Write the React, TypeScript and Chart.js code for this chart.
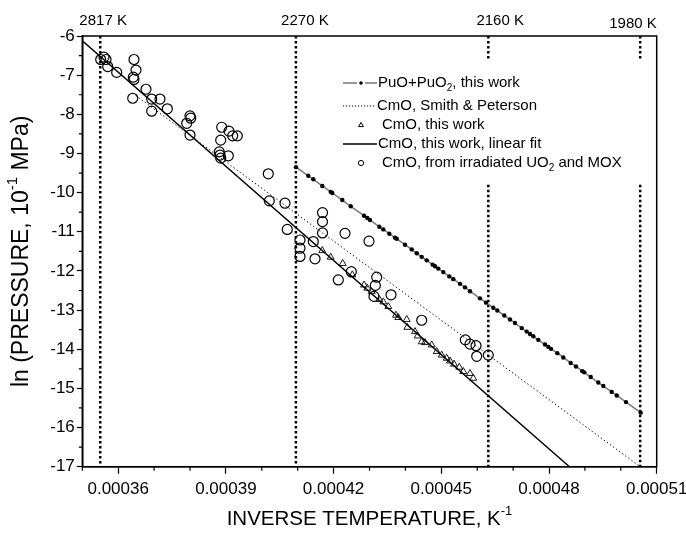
import { useEffect, useRef } from 'react';
import { Chart, registerables } from 'chart.js';
Chart.register(...registerables);

const FONT = "'Liberation Sans', Arial, Helvetica, sans-serif";

// Axis ticks
const xMajorTicks = [0.00036, 0.00039, 0.00042, 0.00045, 0.00048, 0.00051];
const xMinorTicks = [0.00035, 0.00037, 0.00038, 0.0004, 0.00041, 0.00043, 0.00044, 0.00046, 0.00047, 0.00049, 0.0005];
const yMinorTicks = [-6.5, -7.5, -8.5, -9.5, -10.5, -11.5, -12.5, -13.5, -14.5, -15.5, -16.5];

// Temperature reference lines
const tempLabels = ['2817 K', '2270 K', '2160 K', '1980 K'];
const tempLineX = [0.000355, 0.0004095, 0.0004631, 0.0005054];
const tempLabelX = [0.0003558, 0.000412, 0.0004664, 0.0005034];
const tempLineSegments = [
  [[-6, -17]],
  [[-6, -17]],
  [[-6, -6.6], [-9.8, -17]],
  [[-6, -6.6], [-9.8, -17]],
];

// PuO + PuO2, this work
const puoX = [
  0.00040953, 0.00041295, 0.00041435, 0.00041685, 0.00041919, 0.00041964, 0.00042242, 0.00042476,
  0.00042847, 0.00042939, 0.00043014, 0.00043273, 0.00043384, 0.00043552, 0.0004371, 0.00043758,
  0.00043989, 0.00044175, 0.00044315, 0.00044454, 0.00044593, 0.0004476, 0.00044825, 0.00044916,
  0.00045056, 0.00045223, 0.00045334, 0.00045521, 0.0004566, 0.00045799, 0.00046078, 0.00046245,
  0.00046448, 0.0004656, 0.00046755, 0.00046914, 0.00047053, 0.0004724, 0.00047379, 0.00047471,
  0.00047563, 0.00047702, 0.00047889, 0.00047981, 0.00048056, 0.00048231, 0.00048398, 0.00048604,
  0.00048752, 0.00048928, 0.00048983, 0.00049162, 0.00049373, 0.00049513, 0.00049747, 0.00049886,
  0.00050145, 0.00050554,
];
const puoY = [
  -9.35, -9.57, -9.66, -9.83, -9.98, -10.01, -10.19, -10.35,
  -10.59, -10.65, -10.7, -10.87, -10.94, -11.05, -11.15, -11.18,
  -11.33, -11.45, -11.55, -11.64, -11.73, -11.84, -11.88, -11.94,
  -12.03, -12.14, -12.21, -12.33, -12.42, -12.52, -12.7, -12.81,
  -12.94, -13.01, -13.14, -13.24, -13.33, -13.46, -13.55, -13.61,
  -13.67, -13.76, -13.88, -13.94, -13.99, -14.1, -14.21, -14.35,
  -14.44, -14.56, -14.59, -14.71, -14.85, -14.94, -15.09, -15.18,
  -15.35, -15.62,
];

// CmO, Smith & Peterson
const smithX = [0.000364, 0.0005054];
const smithY = [-7.46, -17];

// CmO, this work (triangles)
const cmoX = [
  0.00041685, 0.00041919, 0.00042253, 0.00042521, 0.00042847, 0.00042939, 0.00043061, 0.00043273,
  0.00043384, 0.00043524, 0.00043738, 0.00043802, 0.00044036, 0.00044053, 0.00044267, 0.00044343,
  0.00044454, 0.00044546, 0.00044733, 0.00044872, 0.00045011, 0.0004515, 0.00045242, 0.00045354,
  0.00045501, 0.00045613, 0.00045799, 0.00045891,
];
const cmoY = [
  -11.48, -11.65, -11.81, -12.1, -12.36, -12.44, -12.53, -12.73,
  -12.79, -12.91, -13.13, -13.19, -13.24, -13.44, -13.55, -13.66,
  -13.81, -13.83, -13.89, -14.06, -14.15, -14.23, -14.3, -14.38,
  -14.46, -14.57, -14.62, -14.74,
];

// CmO, this work, linear fit
const fitX = [0.00035, 0.0004857];
const fitY = [-6.12, -17];

// CmO, from irradiated UO2 and MOX (circles)
const irrX = [
  0.00035513, 0.00035604, 0.0003566, 0.00035708, 0.00035958, 0.0003644, 0.00036496, 0.00036421,
  0.0003644, 0.00036774, 0.00036404, 0.00036933, 0.00037164, 0.00036933, 0.00037368, 0.00038,
  0.0003802, 0.00037908, 0.00038, 0.00038883, 0.00039086, 0.00039189, 0.00039318, 0.00038855,
  0.00038816, 0.00038836, 0.00038855, 0.00039067, 0.00040181, 0.00040209, 0.00040646, 0.0004071,
  0.00041064, 0.00041064, 0.00041064, 0.00041435, 0.00041482, 0.00041691, 0.00041691, 0.00041691,
  0.00042318, 0.00042986, 0.00042493, 0.00042131, 0.00043201, 0.00043162, 0.00043125, 0.00043599,
  0.00044454, 0.00045669, 0.00045799, 0.00045967, 0.00045986, 0.00046309,
];
const irrY = [
  -6.6, -6.54, -6.6, -6.78, -6.93, -6.6, -6.87, -7.05,
  -7.11, -7.36, -7.59, -7.61, -7.61, -7.92, -7.86, -8.04,
  -8.1, -8.23, -8.53, -8.33, -8.43, -8.55, -8.55, -8.66,
  -8.96, -9.04, -9.12, -9.06, -9.52, -10.21, -10.27, -10.94,
  -11.21, -11.42, -11.63, -11.25, -11.69, -10.51, -10.74, -11.03,
  -11.04, -11.24, -12.02, -12.23, -12.16, -12.37, -12.65, -12.61,
  -13.26, -13.76, -13.87, -13.91, -14.18, -14.15,
];

const legendRows = [
  { parts: [['PuO+PuO', 0], ['2', 1], [', this work', 0]], kind: 'puo' },
  { parts: [['CmO, Smith & Peterson', 0]], kind: 'dotted' },
  { parts: [['CmO, this work', 0]], kind: 'triangle' },
  { parts: [['CmO, this work, linear fit', 0]], kind: 'solid' },
  { parts: [['CmO, from irradiated UO', 0], ['2', 1], [' and MOX', 0]], kind: 'circle' },
];

const zip = (xs: number[], ys: number[]) => xs.map((x, i) => ({ x, y: ys[i] }));

function drawParts(ctx: CanvasRenderingContext2D, parts: any[], x: number, y: number, size: number, subSize: number, subDy: number) {
  let cx = x;
  for (const [t, sub] of parts) {
    ctx.font = `${sub ? subSize : size}px ${FONT}`;
    ctx.fillText(t, cx, sub ? y + subDy : y);
    cx += ctx.measureText(t).width;
  }
}

function measureParts(ctx: CanvasRenderingContext2D, parts: any[], size: number, subSize: number) {
  let w = 0;
  for (const [t, sub] of parts) {
    ctx.font = `${sub ? subSize : size}px ${FONT}`;
    w += ctx.measureText(t).width;
  }
  return w;
}

const decor = {
  id: 'decor',
  afterDraw(chart: any) {
    const ctx: CanvasRenderingContext2D = chart.ctx;
    const { left, right, top, bottom } = chart.chartArea;
    const xs = chart.scales.x;
    const ys = chart.scales.y;
    ctx.save();
    ctx.strokeStyle = '#000';
    ctx.fillStyle = '#000';
    // frame
    ctx.lineWidth = 1.5;
    ctx.strokeRect(left, top, right - left, bottom - top);
    // minor ticks
    ctx.lineWidth = 1.2;
    ctx.beginPath();
    for (const v of xMinorTicks) {
      const px = xs.getPixelForValue(v);
      ctx.moveTo(px, bottom);
      ctx.lineTo(px, bottom + 4);
    }
    for (const v of yMinorTicks) {
      const py = ys.getPixelForValue(v);
      ctx.moveTo(left - 3.5, py);
      ctx.lineTo(left, py);
    }
    ctx.stroke();
    // temperature labels
    ctx.font = `15px ${FONT}`;
    ctx.textAlign = 'center';
    ctx.textBaseline = 'middle';
    tempLabels.forEach((t, i) => {
      ctx.fillText(t, xs.getPixelForValue(tempLabelX[i]), i === 3 ? 24 : 21);
    });
    // x title
    ctx.textAlign = 'left';
    const xParts = [['INVERSE TEMPERATURE, K', 0], ['-1', 1]];
    const xw = measureParts(ctx, xParts, 20.5, 13);
    drawParts(ctx, xParts, (left + right) / 2 - xw / 2, 519, 20.5, 13, -8);
    // y title
    const yParts = [['ln (PRESSURE, 10', 0], ['-1', 1], [' MPa)', 0]];
    const yw = measureParts(ctx, yParts, 23, 15);
    ctx.save();
    ctx.translate(22, (top + bottom) / 2);
    ctx.rotate(-Math.PI / 2);
    drawParts(ctx, yParts, -yw / 2, 0, 23, 15, -9);
    ctx.restore();
    // legend
    const rowY = [83, 106, 125, 144, 163];
    const textX = [378, 377, 382, 378, 382];
    legendRows.forEach((row, i) => {
      const y = rowY[i];
      ctx.save();
      if (row.kind === 'puo') {
        ctx.strokeStyle = '#777';
        ctx.lineWidth = 1.5;
        ctx.beginPath();
        ctx.moveTo(343, y); ctx.lineTo(357, y);
        ctx.moveTo(365, y); ctx.lineTo(377, y);
        ctx.stroke();
        ctx.beginPath();
        ctx.arc(361, y, 1.8, 0, Math.PI * 2);
        ctx.fill();
      } else if (row.kind === 'dotted') {
        ctx.lineWidth = 1;
        ctx.setLineDash([1.2, 1.8]);
        ctx.beginPath();
        ctx.moveTo(343, y); ctx.lineTo(375, y);
        ctx.stroke();
      } else if (row.kind === 'solid') {
        ctx.lineWidth = 1.5;
        ctx.beginPath();
        ctx.moveTo(343, y); ctx.lineTo(377, y);
        ctx.stroke();
      } else if (row.kind === 'triangle') {
        ctx.lineWidth = 1;
        ctx.beginPath();
        ctx.moveTo(361, y - 2.6); ctx.lineTo(363.4, y + 1.6); ctx.lineTo(358.6, y + 1.6); ctx.closePath();
        ctx.stroke();
      } else if (row.kind === 'circle') {
        ctx.lineWidth = 1;
        ctx.beginPath();
        ctx.arc(361, y, 2.6, 0, Math.PI * 2);
        ctx.stroke();
      }
      ctx.restore();
      ctx.textBaseline = 'middle';
      drawParts(ctx, row.parts, textX[i], y, 15, 10, 5);
    });
    ctx.restore();
  },
};

export default function App() {
  const ref = useRef<HTMLCanvasElement | null>(null);
  useEffect(() => {
    if (!ref.current) return;
    const datasets: any[] = [
      {
        data: zip(irrX, irrY), showLine: false, pointStyle: 'circle', pointRadius: 5,
        pointBorderColor: '#000', pointBackgroundColor: 'rgba(0,0,0,0)', pointBorderWidth: 1.2,
      },
      {
        data: zip(cmoX, cmoY), showLine: false, pointStyle: 'triangle', pointRadius: 4,
        pointBorderColor: '#000', pointBackgroundColor: 'rgba(0,0,0,0)', pointBorderWidth: 0.9,
      },
      {
        data: zip(puoX, puoY), showLine: true, borderColor: '#7a7a7a', borderWidth: 1.5,
        pointStyle: 'circle', pointRadius: 2.2, pointBackgroundColor: '#000', pointBorderColor: '#000', pointBorderWidth: 0,
      },
      { data: zip(fitX, fitY), showLine: true, borderColor: '#000', borderWidth: 1.5, pointRadius: 0 },
      { data: zip(smithX, smithY), showLine: true, borderColor: '#000', borderWidth: 1, borderDash: [1.3, 2.5], pointRadius: 0 },
    ];
    tempLineX.forEach((x, i) => {
      tempLineSegments[i].forEach(([y0, y1]) => {
        datasets.push({
          data: [{ x, y: y0 }, { x, y: y1 }], showLine: true, borderColor: '#000', borderWidth: 2.5,
          borderDash: [2.5, 2.5], pointRadius: 0,
        });
      });
    });
    const tickFont = { family: FONT, size: 17 };
    const chart = new Chart(ref.current, {
      type: 'scatter',
      data: { datasets },
      options: {
        animation: false,
        responsive: false,
        devicePixelRatio: 1,
        events: [],
        layout: { padding: { left: 0, right: 686 - 656.7, top: 36, bottom: 0 } },
        plugins: { legend: { display: false }, tooltip: { enabled: false } },
        scales: {
          x: {
            type: 'linear', min: 0.00035, max: 0.00051,
            afterBuildTicks: (s: any) => { s.ticks = xMajorTicks.map((v) => ({ value: v })); },
            afterFit: (s: any) => { s.height = 534 - 466.7; s.paddingLeft = 0; s.paddingRight = 0; },
            ticks: {
              callback: (v: any) => Number(v).toFixed(5), font: tickFont, color: '#000',
              padding: 5, maxRotation: 0, autoSkip: false,
            },
            grid: { drawOnChartArea: false, drawTicks: true, tickLength: 7, color: '#000', tickWidth: 1.2 },
            border: { display: true, color: '#000', width: 1.5 },
          },
          y: {
            type: 'linear', min: -17, max: -6,
            afterFit: (s: any) => { s.width = 82.3; s.paddingTop = 0; s.paddingBottom = 0; },
            ticks: { stepSize: 1, font: tickFont, color: '#000', padding: 2 },
            grid: { drawOnChartArea: false, drawTicks: true, tickLength: 5.5, color: '#000', tickWidth: 1.2 },
            border: { display: true, color: '#000', width: 1.5 },
          },
        },
      } as any,
      plugins: [decor as any],
    });
    return () => chart.destroy();
  }, []);
  return (
    <div style={{ position: 'absolute', left: 0, top: 0, width: 686, height: 534, background: '#fff' }}>
      <canvas ref={ref} width={686} height={534} style={{ width: 686, height: 534, display: 'block' }} />
    </div>
  );
}
